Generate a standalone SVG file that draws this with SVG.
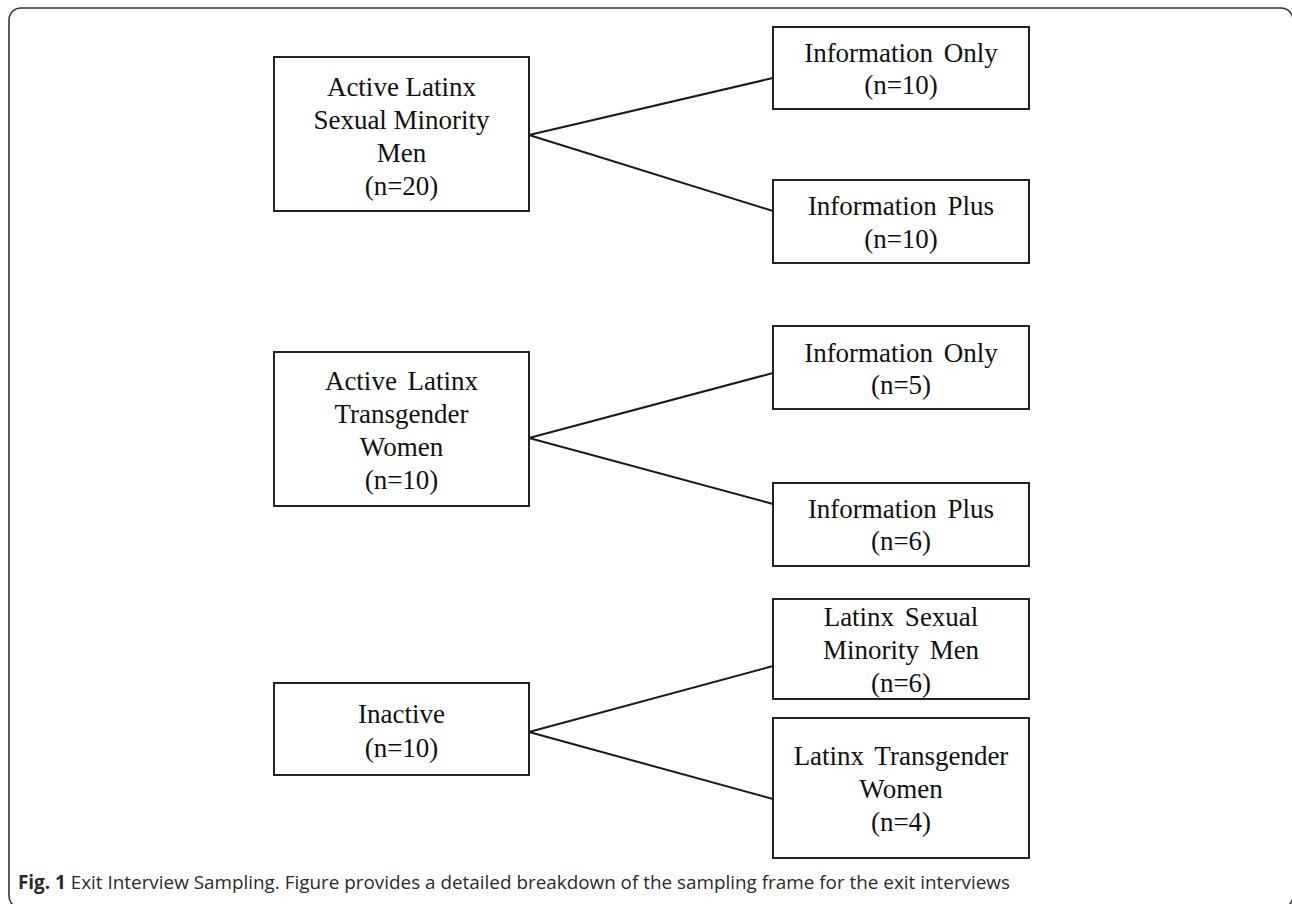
<svg xmlns="http://www.w3.org/2000/svg" width="1292" height="904" viewBox="0 0 1292 904">
<style>
.box{fill:#fff;stroke:#222;stroke-width:2}
.t{font-family:"Liberation Serif","Times New Roman",serif;font-size:27px;fill:#111;text-anchor:middle}
.ws{word-spacing:4px}
.conn{stroke:#1a1a1a;stroke-width:2;fill:none}
.frame{fill:none;stroke:#333;stroke-width:1.6}
.cap{font-family:"Open Sans","Liberation Sans",Arial,sans-serif;font-size:19px;fill:#2a2a2a}
</style>
<rect width="1292" height="904" fill="#fff"/>
<rect class="frame" x="9" y="8" width="1284" height="900" rx="12"/>
<g id="connectors">
<line class="conn" x1="529" y1="135" x2="773" y2="78"/>
<line class="conn" x1="529" y1="135" x2="773" y2="211"/>
<line class="conn" x1="529" y1="438" x2="773" y2="373"/>
<line class="conn" x1="529" y1="438" x2="773" y2="504"/>
<line class="conn" x1="529" y1="732" x2="773" y2="666"/>
<line class="conn" x1="529" y1="732" x2="773" y2="799"/>
</g>
<g id="active-smm">
<rect class="box" x="274" y="57" width="255" height="154"/>
<text class="t" x="401.5" y="96">Active Latinx</text>
<text class="t" x="401.5" y="129">Sexual Minority</text>
<text class="t" x="401.5" y="162">Men</text>
<text class="t" x="401.5" y="195">(n=20)</text>
</g>
<g id="smm-info-only">
<rect class="box" x="773" y="27" width="256" height="82"/>
<text class="t ws" x="901" y="62">Information Only</text>
<text class="t" x="901" y="94">(n=10)</text>
</g>
<g id="smm-info-plus">
<rect class="box" x="773" y="180" width="256" height="83"/>
<text class="t ws" x="901" y="215">Information Plus</text>
<text class="t" x="901" y="248">(n=10)</text>
</g>
<g id="active-tw">
<rect class="box" x="274" y="352" width="255" height="154"/>
<text class="t ws" x="401.5" y="390">Active Latinx</text>
<text class="t" x="401.5" y="423">Transgender</text>
<text class="t" x="401.5" y="456">Women</text>
<text class="t" x="401.5" y="489">(n=10)</text>
</g>
<g id="tw-info-only">
<rect class="box" x="773" y="326" width="256" height="83"/>
<text class="t ws" x="901" y="362">Information Only</text>
<text class="t" x="901" y="394">(n=5)</text>
</g>
<g id="tw-info-plus">
<rect class="box" x="773" y="483" width="256" height="83"/>
<text class="t ws" x="901" y="518">Information Plus</text>
<text class="t" x="901" y="550">(n=6)</text>
</g>
<g id="inactive">
<rect class="box" x="274" y="683" width="255" height="92"/>
<text class="t" x="401.5" y="723">Inactive</text>
<text class="t" x="401.5" y="757">(n=10)</text>
</g>
<g id="inactive-smm">
<rect class="box" x="773" y="599" width="256" height="100"/>
<text class="t ws" x="901" y="626">Latinx Sexual</text>
<text class="t ws" x="901" y="659">Minority Men</text>
<text class="t" x="901" y="692">(n=6)</text>
</g>
<g id="inactive-tw">
<rect class="box" x="773" y="718" width="256" height="140"/>
<text class="t ws" x="901" y="765">Latinx Transgender</text>
<text class="t" x="901" y="798">Women</text>
<text class="t" x="901" y="831">(n=4)</text>
</g>
<text class="cap" x="18" y="889" textLength="992" lengthAdjust="spacingAndGlyphs"><tspan font-weight="bold">Fig. 1</tspan> Exit Interview Sampling. Figure provides a detailed breakdown of the sampling frame for the exit interviews</text>
</svg>
